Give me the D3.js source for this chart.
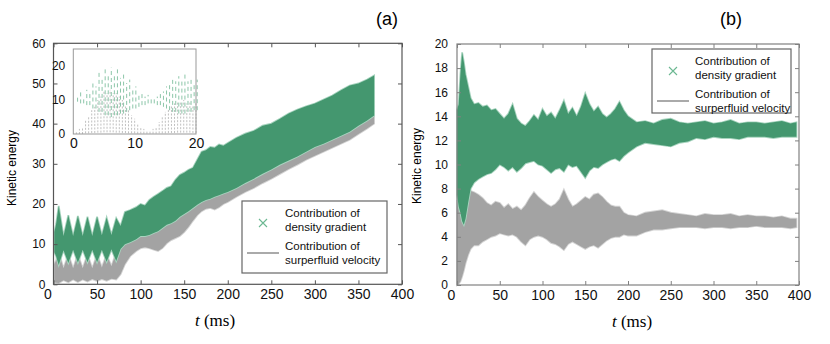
<!DOCTYPE html>
<html>
<head>
<meta charset="utf-8">
<script src="https://cdn.jsdelivr.net/npm/d3@7"></script>
<style>
  body { margin: 0; background: #fff; }
  svg { display: block; font-family: "Liberation Sans", Arial, sans-serif; }
</style>
</head>
<body>
<script>
// ---- data (t in ms, kinetic energy in arb. units) ----

// panel (a): envelopes of the fast oscillation
const tA = [1, 3, 6, 11.5, 17, 22.5, 28, 33.5, 39, 44.5, 50, 55.5, 61, 66.5, 72, 77,
  82, 88, 95, 100, 105, 110, 115, 120, 125, 130, 135, 140, 145, 150, 155, 160, 165, 170,
  175, 180, 185, 190, 195, 200, 210, 220, 230, 240, 250, 260, 270, 280, 290, 300, 310,
  320, 330, 340, 350, 360, 368];
const greenHiA = [13, 15, 19.5, 12, 17.2, 12, 17, 12, 16.8, 12, 16.8, 12.2, 16.6, 12.3, 16.5, 14.5,
  18, 18.5, 19.2, 20, 19.6, 21, 21.8, 22.5, 23.2, 24, 24.4, 26, 27.2, 27.8, 28.5, 29, 31, 33,
  33.4, 34.2, 34, 34.8, 34.5, 35.2, 36.5, 37.5, 38.2, 39.5, 40, 41.2, 42.5, 43.5, 44.3, 45, 46,
  47, 48.3, 49.5, 50, 51, 52];
const greenLoA = [8, 7, 4.8, 8.5, 5.3, 8.6, 5.4, 8.6, 5.5, 8.6, 5.5, 8.6, 5.6, 8.7, 5.8, 8.8,
  10, 10.5, 11.2, 12, 12, 12.3, 12.8, 13.2, 14, 14.8, 15.2, 15.8, 16.8, 17.5, 18.2, 19, 19.8, 20.5,
  21, 21.3, 21.8, 22.2, 22.6, 23, 24, 25.2, 26.3, 27.5, 28.6, 29.8, 30.8, 31.8, 33, 34.2, 35,
  36, 37, 38, 39.5, 40.8, 42];
const grayHiA = [5, 6, 8, 4, 7.5, 4, 7.5, 4, 7.5, 4, 7.5, 4.2, 7.5, 4.5, 8, 9,
  12, 13, 14, 14.5, 15, 15.3, 15.8, 16.2, 17, 17.8, 18.2, 18.8, 19.8, 20.5, 21.2, 22, 22.8, 23.5,
  24, 24.3, 24.8, 25.2, 25.6, 26, 27, 28.2, 29.3, 30.5, 31.6, 32.8, 33.8, 34.8, 36, 37.2, 38,
  39, 40, 41, 42.5, 43.8, 45];
const grayLoA = [0.5, 0.4, 0.3, 1, 0.5, 1.2, 0.6, 1.2, 0.7, 1.3, 0.8, 1.3, 0.9, 1.4, 1.2, 2.5,
  5, 7, 8.3, 9, 9.2, 9, 8.6, 8.3, 9, 10.2, 11, 11.5, 12, 13, 14.3, 15.8, 17.2, 18.2,
  18.8, 19, 18.6, 19.2, 20, 20.5, 21.8, 23, 24, 25.2, 26.3, 27.5, 28.7, 29.8, 31, 32, 33,
  34, 35, 36, 37.4, 38.8, 40];

// inset of panel (a): first 20 ms
const tIn = [0.5, 1, 1.5, 2, 2.5, 3, 3.5, 4, 4.5, 5, 5.5, 6, 6.5, 7, 7.5, 8, 8.5, 9, 9.5, 10,
  10.5, 11, 11.5, 12, 12.5, 13, 13.5, 14, 14.5, 15, 15.5, 16, 16.5, 17, 17.5, 18, 18.5, 19, 19.5, 20];
const greenHiIn = [11, 12.5, 11, 13, 12, 15.5, 14, 18, 16, 19, 17, 19.5, 17, 19, 16.5, 18, 15, 16, 13.5, 14,
  12, 12.5, 11, 11.5, 10.5, 11, 11, 12, 12.5, 14, 14.5, 16, 15.5, 17, 16, 17.5, 15.5, 16.5, 15, 16];
const greenLoIn = [9.5, 9, 9, 8.5, 8.5, 7.5, 7.5, 6.5, 6.5, 5.5, 5.5, 5, 5.5, 5.5, 6, 6, 6.5, 7, 7.5, 7.5,
  8, 8.5, 8.5, 9, 9, 9, 8.5, 8.5, 8, 7.5, 7, 6.5, 6.5, 6, 6, 6, 6.5, 6.5, 7, 7];
const grayHiIn = [0.5, 1.5, 2, 4, 5, 7, 8, 10, 11, 12.5, 12, 13, 12, 12, 11, 10, 8.5, 7, 5.5, 4.5,
  3, 2, 1.5, 1, 1, 1.5, 2, 3.5, 5, 6.5, 7.5, 8.5, 9, 9.5, 9.5, 10, 9, 9.5, 8.5, 9];
const grayLoIn = [0, 0, 0, 0.2, 0.2, 0.3, 0.3, 0.4, 0.4, 0.5, 0.5, 0.5, 0.5, 0.4, 0.4, 0.3, 0.3, 0.2, 0.2, 0.2,
  0.1, 0.1, 0.1, 0.1, 0.1, 0.1, 0.1, 0.2, 0.2, 0.2, 0.3, 0.3, 0.3, 0.4, 0.4, 0.4, 0.4, 0.4, 0.3, 0.3];

// panel (b)
const tB = [0, 2, 4, 6, 8, 10, 13, 16,
  20, 25, 30, 35, 40, 45, 50, 55, 60, 65, 70, 75, 80, 85, 90, 95, 100, 105, 110, 115, 120,
  125, 130, 135, 140, 145, 150, 155, 160, 165, 170, 175, 180, 185, 190, 195, 200,
  210, 220, 230, 240, 250, 260, 270, 280, 290, 300, 310, 320, 330, 340, 350, 360, 370, 380, 390, 397];
const greenHiB = [14.5, 15, 17.5, 19.3, 18.5, 17.5, 16.5, 15.5,
  15, 15.1, 14.8, 14.9, 14.5, 14.6, 14.2, 13.8, 14.2, 15, 13.8, 13.4, 13.2, 13.6, 14.1, 13.7, 14.6, 14, 14.3, 13.8, 14.5,
  15.3, 14.2, 14.7, 14, 14.8, 15.9, 15, 14.4, 14.8, 14.2, 13.9, 14.2, 14.6, 15.2, 14.5, 14,
  13.5, 13.6, 13.4, 13.7, 13.8, 13.5, 13.4, 13.5, 13.6, 13.4, 13.5, 13.7, 13.4, 13.5, 13.5, 13.4, 13.5, 13.6, 13.4, 13.5];
const greenLoB = [7.5, 6.5, 6, 5.3, 5, 5.5, 6.8, 8,
  8.5, 8.8, 9, 9.2, 9.3, 9.6, 10, 9.8, 9.5, 9.8, 9.4, 9.7, 10.1, 10.2, 10.3, 10, 9.9, 9.6, 9.3, 9.6, 9.7,
  9.4, 10, 9.8, 9.9, 9.4, 8.9, 9.5, 9.8, 9.7, 10, 10.2, 10.4, 10.5, 10.3, 10.7, 11,
  11.5, 11.8, 11.7, 11.6, 11.5, 11.8, 11.9, 12.2, 12.1, 12.3, 12.2, 12.2, 12.1, 12.3, 12.3, 12.3, 12.2, 12.3, 12.3, 12.3];
const grayHiB = [7, 7, 7, 7, 7.2, 7.4, 7.6, 7.8,
  7.7, 7.5, 7.2, 6.8, 6.6, 6.9, 6.8, 6.4, 6.7, 6.3, 6.5, 6.2, 6.6, 7.2, 7.7, 7.3, 7, 6.7, 6.5, 6.7, 7.1,
  7.9, 7.1, 6.5, 6.7, 7, 7.3, 7.1, 7.5, 7.6, 7.3, 6.9, 6.6, 6.5, 6.5, 6, 5.8,
  5.7, 6, 6.1, 6.2, 6, 5.9, 5.8, 5.7, 5.9, 5.8, 5.8, 5.9, 5.7, 5.8, 5.7, 5.7, 5.6, 5.7, 5.5, 5.5];
const grayLoB = [0, 0.1, 0.3, 0.7, 1.2, 1.8, 2.5, 3,
  3.3, 3.3, 3.6, 3.8, 4, 4.1, 4.3, 4.2, 4.1, 4.2, 4, 3.6, 3.3, 3.8, 4, 4.1, 4, 3.8, 3.5, 3.4, 3.2,
  2.9, 3.4, 3.6, 3.4, 3.2, 3, 3.2, 3.3, 3.1, 3.4, 3.7, 3.9, 4, 4, 4.2, 4.1,
  4.1, 4.4, 4.6, 4.6, 4.7, 4.8, 4.8, 4.8, 4.7, 4.8, 4.8, 4.7, 4.8, 4.8, 4.9, 4.8, 4.8, 4.8, 4.7, 4.8];

const xTicks = [0, 50, 100, 150, 200, 250, 300, 350, 400];
const yTicksA = [0, 10, 20, 30, 40, 50, 60];
const yTicksB = [0, 2, 4, 6, 8, 10, 12, 14, 16, 18, 20];
const legendLabels = [["Contribution of", "density gradient"], ["Contribution of", "surperfluid velocity"]];

// colours
const green = "#44976f", greenEdge = "#a8d4bf", greenMark = "#6cb892";
const gray = "#a3a3a3", grayEdge = "#d4d4d4";

const svg = d3.select("body").append("svg").attr("width", 830).attr("height", 344);

// zip arrays into points for d3.area
function band(t, hi, lo) {
  const n = Math.min(t.length, hi.length, lo.length);
  return d3.range(n).map((i) => ({ t: t[i], hi: hi[i], lo: lo[i] }));
}

function drawBand(g, x, y, pts, fill, edge) {
  const area = d3.area().x((d) => x(d.t)).y0((d) => y(d.lo)).y1((d) => y(d.hi));
  g.append("path").datum(pts).attr("d", area)
    .attr("fill", fill).attr("stroke", edge).attr("stroke-width", 1.8);
  // redraw the body so the light rim only shows outside the dense part
  g.append("path").datum(pts).attr("d", area).attr("fill", fill);
}

// frame with inward ticks on all four sides
function drawFrame(g, x, y, yTicks, frameColor, yPad) {
  const w = x.range()[1], h = y.range()[0];
  const bottom = g.append("g").attr("transform", `translate(0,${h})`)
    .call(d3.axisBottom(x).tickValues(xTicks).tickSize(-4).tickPadding(5));
  bottom.selectAll("text").style("font-size", "14px")
    .filter((d) => d === 0).attr("dx", -6);
  g.append("g").call(d3.axisTop(x).tickValues(xTicks).tickSize(-4).tickFormat(""));
  g.append("g").call(d3.axisLeft(y).tickValues(yTicks).tickSize(-4).tickPadding(yPad))
    .selectAll("text").style("font-size", "12px");
  g.append("g").attr("transform", `translate(${w},0)`)
    .call(d3.axisRight(y).tickValues(yTicks).tickSize(-4).tickFormat(""));
  g.selectAll(".domain").remove();
  g.selectAll(".tick line").attr("stroke", frameColor);
  g.selectAll(".tick text").attr("fill", "#111");
  g.append("rect").attr("width", w).attr("height", h)
    .attr("fill", "none").attr("stroke", frameColor).attr("stroke-width", 1.2);
}

function drawLegend(g, x0, y0, w, h) {
  g.append("rect").attr("x", x0).attr("y", y0).attr("width", w).attr("height", h)
    .attr("fill", "#fff").attr("stroke", "#666").attr("stroke-width", 1.2);
  // green cross marker
  const mx = x0 + 21, my = y0 + 22;
  g.append("path").attr("d", `M${mx - 4},${my - 4}L${mx + 4},${my + 4}M${mx - 4},${my + 4}L${mx + 4},${my - 4}`)
    .attr("stroke", greenMark).attr("stroke-width", 1.1);
  // gray line sample
  g.append("line").attr("x1", x0 + 5).attr("x2", x0 + 37)
    .attr("y1", y0 + 52).attr("y2", y0 + 52).attr("stroke", "#aaa").attr("stroke-width", 2);
  legendLabels.forEach((lines, i) => {
    lines.forEach((s, j) => {
      g.append("text").attr("x", x0 + 43).attr("y", y0 + 15.5 + i * 33 + j * 14.5)
        .style("font-size", "11.5px").attr("fill", "#111").text(s);
    });
  });
}

// ---------------- panel (a) ----------------
const pa = { left: 53.5, top: 43.3, width: 348.5, height: 241 };
const gA = svg.append("g").attr("transform", `translate(${pa.left},${pa.top})`);
const xA = d3.scaleLinear().domain([0, 400]).range([0, pa.width]);
const yA = d3.scaleLinear().domain([0, 60]).range([pa.height, 0]);

drawBand(gA, xA, yA, band(tA, grayHiA, grayLoA), gray, grayEdge);
drawBand(gA, xA, yA, band(tA, greenHiA, greenLoA), green, greenEdge);
drawFrame(gA, xA, yA, yTicksA, "#555", 8);

// inset
const pi = { left: 73.3, top: 49, width: 122.7, height: 85 };
const gI = svg.append("g").attr("transform", `translate(${pi.left},${pi.top})`);
const xI = d3.scaleLinear().domain([0, 20]).range([0, pi.width]);
const yI = d3.scaleLinear().domain([0, 25]).range([pi.height, 0]);
gI.append("rect").attr("width", pi.width).attr("height", pi.height).attr("fill", "#fff");

gI.selectAll(".gray-osc").data(band(tIn, grayHiIn, grayLoIn)).join("line")
  .attr("x1", (d) => xI(d.t)).attr("x2", (d) => xI(d.t))
  .attr("y1", (d) => yI(d.lo)).attr("y2", (d) => yI(d.hi))
  .attr("stroke", "#b0b0b0").attr("stroke-width", 0.8).attr("stroke-dasharray", "2,1.5");
gI.selectAll(".green-osc").data(band(tIn, greenHiIn, greenLoIn)).join("line")
  .attr("x1", (d) => xI(d.t) + 1.2).attr("x2", (d) => xI(d.t) + 1.2)
  .attr("y1", (d) => yI(d.lo)).attr("y2", (d) => yI(d.hi))
  .attr("stroke", "#7fbf9f").attr("stroke-width", 0.9).attr("stroke-dasharray", "4,3");

gI.append("rect").attr("width", pi.width).attr("height", pi.height)
  .attr("fill", "none").attr("stroke", "#999").attr("stroke-width", 1);
gI.append("g").attr("transform", `translate(0,${pi.height})`)
  .call(d3.axisBottom(xI).tickValues([0, 10, 20]).tickSize(0).tickPadding(4))
  .call((g) => g.select(".domain").remove())
  .selectAll("text").style("font-size", "14px").attr("fill", "#111");
gI.append("g")
  .call(d3.axisLeft(yI).tickValues([0, 10, 20]).tickSize(0).tickPadding(8))
  .call((g) => g.select(".domain").remove())
  .selectAll("text").style("font-size", "12px").attr("fill", "#111");

drawLegend(svg, 242, 201, 145, 72);

// axis titles (a)
svg.append("text").attr("transform", "translate(16,168) rotate(-90)")
  .attr("text-anchor", "middle").style("font-size", "12px").text("Kinetic energy");
const xtA = svg.append("text").attr("x", 215).attr("y", 326).attr("text-anchor", "middle")
  .style("font-family", "'Liberation Serif', 'DejaVu Serif', serif").style("font-size", "17px");
xtA.append("tspan").style("font-style", "italic").text("t");
xtA.append("tspan").text(" (ms)");
svg.append("text").attr("x", 387).attr("y", 25).attr("text-anchor", "middle")
  .style("font-size", "18px").text("(a)");

// ---------------- panel (b) ----------------
const pb = { left: 457, top: 44, width: 342, height: 241 };
const gB = svg.append("g").attr("transform", `translate(${pb.left},${pb.top})`);
const xB = d3.scaleLinear().domain([0, 400]).range([0, pb.width]);
const yB = d3.scaleLinear().domain([0, 20]).range([pb.height, 0]);

drawBand(gB, xB, yB, band(tB, grayHiB, grayLoB), gray, grayEdge);
drawBand(gB, xB, yB, band(tB, greenHiB, greenLoB), green, greenEdge);
drawFrame(gB, xB, yB, yTicksB, "#808080", 9);

drawLegend(svg, 652, 49, 139, 64);

svg.append("text").attr("transform", "translate(421,166) rotate(-90)")
  .attr("text-anchor", "middle").style("font-size", "12px").text("Kinetic energy");
const xtB = svg.append("text").attr("x", 632).attr("y", 327).attr("text-anchor", "middle")
  .style("font-family", "'Liberation Serif', 'DejaVu Serif', serif").style("font-size", "17px");
xtB.append("tspan").style("font-style", "italic").text("t");
xtB.append("tspan").text(" (ms)");
svg.append("text").attr("x", 731).attr("y", 25).attr("text-anchor", "middle")
  .style("font-size", "18px").text("(b)");
</script>
</body>
</html>
